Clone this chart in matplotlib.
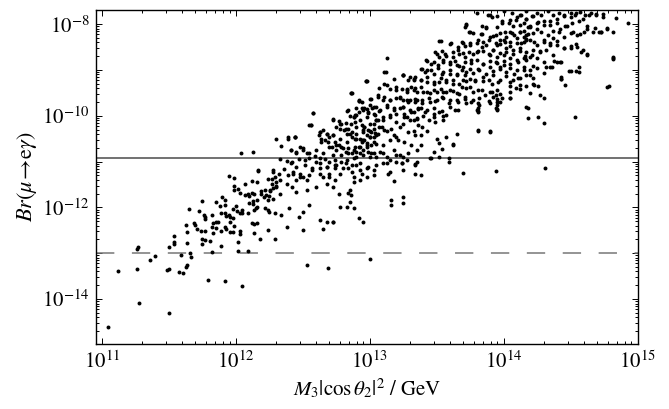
import numpy as np
import matplotlib.pyplot as plt
from matplotlib.ticker import FixedLocator, FixedFormatter, LogLocator, NullFormatter

plt.rcParams['font.family'] = ['STIXGeneral', 'DejaVu Serif']
plt.rcParams['mathtext.fontset'] = 'stix'

# scan points as (log10 M3|cos th2|^2 / GeV, log10 Br)
lower_tail = [
    (11.05, -14.60), (11.28, -14.09), (11.50, -14.30), (11.12, -13.39), (11.26, -13.35),
    (11.50, -13.35), (11.49, -13.36), (11.58, -13.42), (11.61, -13.43), (11.63, -13.29),
    (11.64, -13.26), (11.36, -13.15), (11.40, -13.05), (11.26, -12.90), (11.27, -12.87),
    (11.50, -12.87), (11.54, -12.75), (11.54, -12.79), (11.54, -12.62), (11.59, -13.03),
    (11.67, -13.08), (11.66, -12.99), (11.64, -12.77), (11.64, -12.53), (11.63, -12.39),
    (11.65, -12.04), (11.69, -12.35), (11.70, -12.38), (11.71, -12.48), (11.74, -12.51),
    (11.77, -12.51), (11.75, -11.87), (11.73, -12.08), (11.76, -12.16), (11.77, -12.21),
    (11.77, -12.25), (11.75, -12.68), (11.77, -12.72), (11.75, -12.79), (11.81, -12.74),
    (11.82, -12.98), (11.79, -13.58), (11.92, -13.61), (12.05, -13.71), (11.82, -12.16),
    (11.83, -12.33), (11.85, -12.31), (11.87, -12.32), (11.82, -12.43), (11.83, -12.56),
    (11.85, -12.45), (11.85, -11.88), (11.90, -11.78), (11.92, -11.83), (11.92, -11.95),
    (11.88, -11.96), (11.89, -12.12), (11.92, -12.13), (11.93, -12.19), (11.95, -12.16),
    (11.96, -12.21), (11.89, -12.85), (11.89, -12.51), (11.92, -12.43), (11.93, -12.48),
    (11.96, -12.54), (11.98, -12.54), (11.96, -12.32), (11.98, -12.24), (11.99, -12.41),
    (11.95, -11.31), (11.99, -11.36), (11.99, -11.53), (11.99, -11.62), (12.02, -11.60),
    (12.03, -11.68), (12.00, -11.97), (11.98, -12.04), (12.01, -12.08), (12.03, -12.12),
    (12.05, -12.06), (12.05, -12.13), (12.03, -12.52), (12.03, -12.59), (12.02, -12.76),
    (12.02, -12.96), (12.09, -12.96), (12.07, -11.48), (12.12, -11.43), (12.16, -11.45),
    (12.17, -11.21), (12.07, -11.72), (12.09, -11.70), (12.10, -11.76), (12.12, -11.68),
    (12.14, -11.71), (12.13, -11.85), (12.10, -11.90), (12.13, -11.93), (12.15, -12.01),
    (12.14, -12.06), (12.16, -12.00), (12.16, -11.84), (12.09, -12.12), (12.12, -12.35),
    (12.14, -12.37), (12.16, -12.34), (12.14, -12.56), (12.18, -12.69), (12.19, -11.70),
    (12.19, -11.64), (12.22, -11.62), (12.21, -11.78), (12.24, -11.84), (12.25, -11.74),
    (12.26, -11.65), (12.27, -11.49), (12.27, -11.39), (12.30, -11.44), (12.30, -11.54),
    (12.28, -11.57), (12.24, -11.38), (12.29, -11.34), (12.28, -11.22), (12.22, -12.02),
    (12.24, -12.06), (12.25, -12.10), (12.24, -12.50), (12.29, -12.69), (12.29, -12.13),
]

middle_band = [
    (12.97, -9.25), (12.86, -9.51), (12.92, -9.67), (13.01, -9.64), (13.06, -9.59),
    (12.58, -9.94), (12.56, -10.19), (12.83, -9.89), (12.85, -10.00), (12.88, -10.02),
    (12.90, -9.99), (12.89, -10.13), (12.86, -10.17), (12.92, -9.91), (12.96, -9.83),
    (12.98, -9.86), (12.99, -9.94), (12.98, -10.02), (13.02, -9.84), (13.05, -9.81),
    (13.07, -9.90), (13.04, -9.99), (13.05, -10.10), (13.03, -10.17), (13.07, -10.24),
    (12.94, -10.21), (12.96, -10.24), (12.99, -10.31), (13.01, -10.35), (13.04, -10.37),
    (12.95, -10.35), (12.98, -10.42), (13.00, -10.46), (13.03, -10.28), (13.05, -10.42),
    (12.93, -10.50), (12.96, -10.53), (12.73, -10.08), (12.77, -10.11), (12.79, -10.18),
    (12.82, -10.15), (12.75, -10.24), (12.78, -10.28), (12.81, -10.31), (12.84, -10.28),
    (12.87, -10.35), (12.83, -10.39), (12.87, -10.46), (12.90, -10.50), (12.94, -10.57),
    (12.98, -10.60), (13.01, -10.64), (12.92, -10.68), (12.90, -10.79), (12.95, -10.75),
    (12.99, -10.79), (13.03, -10.82), (13.05, -10.90), (12.63, -10.35), (12.65, -10.31),
    (12.68, -10.39), (12.64, -10.50), (12.67, -10.53), (12.70, -10.46), (12.62, -10.42),
    (12.69, -10.57), (12.73, -10.42), (12.74, -10.57), (12.77, -10.64), (12.79, -10.68),
    (12.72, -10.68), (12.75, -10.75), (12.82, -10.79), (12.84, -10.71), (12.87, -10.82),
    (12.88, -10.93), (12.83, -10.97), (12.30, -10.51), (12.39, -10.50), (12.44, -10.47),
    (12.34, -10.66), (12.41, -10.75), (12.48, -10.68), (12.50, -10.75), (12.53, -10.82),
    (12.45, -10.82), (12.04, -10.82), (12.13, -10.79), (12.33, -10.95), (12.38, -10.98),
    (12.42, -11.01), (12.47, -10.95), (12.52, -10.97), (12.55, -10.93), (12.59, -10.88),
    (12.63, -10.91), (12.60, -11.01), (12.67, -10.95), (12.70, -11.01), (12.74, -10.97),
    (12.75, -11.08), (12.79, -11.01), (12.82, -11.04), (12.84, -11.13), (12.28, -11.19),
    (12.32, -11.26), (12.36, -11.17), (12.39, -11.30), (12.43, -11.22), (12.48, -11.26),
    (12.50, -11.33), (12.45, -11.41), (12.53, -11.41), (12.57, -11.19), (12.63, -11.15),
    (12.68, -11.12), (12.74, -11.15), (12.70, -11.26), (12.65, -11.33), (12.68, -11.48),
    (12.73, -11.55), (12.60, -11.55), (12.53, -11.62), (12.45, -11.66), (12.42, -11.55),
    (12.38, -11.48), (12.33, -11.41), (12.30, -11.55), (12.33, -11.70), (12.26, -11.62),
    (12.28, -11.81), (12.23, -11.73), (12.93, -11.41), (12.98, -11.33), (13.03, -11.30),
    (12.88, -11.44), (12.85, -11.62), (12.86, -11.73), (12.83, -11.99), (12.88, -12.02),
    (12.92, -12.24), (12.95, -12.32), (12.93, -11.19), (12.98, -11.15), (12.90, -11.08),
    (12.77, -11.70), (12.78, -11.99), (12.88, -11.33), (12.74, -11.41), (12.38, -12.43),
    (12.47, -12.21), (12.50, -12.10), (12.55, -11.95), (12.40, -12.02), (12.34, -12.17),
    (12.63, -12.28), (12.68, -12.32), (12.73, -12.32), (12.50, -12.50), (12.55, -10.21),
    (12.39, -10.46), (12.44, -10.46), (12.17, -11.19), (12.65, -12.48), (12.69, -13.33),
    (12.53, -13.25), (12.73, -12.32),
]

middle_band_extra = [
    (13.11, -9.04), (13.25, -9.11), (13.30, -9.15), (13.33, -9.22), (12.97, -9.24),
    (12.86, -9.51), (13.07, -9.40), (13.13, -9.33), (13.20, -9.44), (13.28, -9.48),
    (13.34, -9.40), (12.92, -9.67), (13.00, -9.64), (13.06, -9.55), (13.11, -9.59),
    (13.15, -9.66), (13.23, -9.62), (13.29, -9.70), (13.35, -9.66), (12.58, -9.94),
    (12.56, -10.19), (12.73, -10.10), (12.78, -10.17), (12.84, -9.88), (12.89, -9.99),
    (12.94, -9.84), (12.99, -9.91), (13.03, -9.81), (13.08, -9.88), (13.13, -9.77),
    (13.18, -9.84), (13.25, -9.81), (13.31, -9.91), (13.36, -9.84), (12.82, -10.28),
    (12.85, -10.39), (12.90, -10.24), (12.95, -10.31), (13.00, -10.17), (13.05, -10.10),
    (13.10, -10.02), (13.15, -9.99), (13.20, -9.95), (13.26, -10.02), (13.33, -10.10),
    (13.36, -10.20), (12.44, -10.46), (12.63, -10.35), (12.68, -10.39), (12.73, -10.42),
    (12.78, -10.50), (12.83, -10.57), (12.89, -10.50), (12.94, -10.53), (13.00, -10.46),
    (13.06, -10.39), (13.11, -10.31), (13.16, -10.28), (13.23, -10.24), (13.29, -10.35),
    (13.34, -10.42), (12.64, -10.57), (12.70, -10.68), (12.75, -10.64), (12.80, -10.71),
    (12.88, -10.75), (12.93, -10.68), (12.98, -10.64), (13.03, -10.57), (13.10, -10.64),
    (13.15, -10.53), (13.20, -10.46), (13.26, -10.57), (13.31, -10.64), (13.35, -10.75),
    (12.41, -10.75), (12.45, -10.79), (12.50, -10.71), (12.55, -10.82), (12.60, -10.75),
    (12.65, -10.82), (12.73, -10.86), (12.79, -10.86), (12.84, -10.82), (12.90, -10.90),
    (12.95, -10.86), (13.01, -10.82), (13.08, -10.79), (13.13, -10.90), (13.18, -10.75),
    (13.23, -10.86), (13.29, -10.82), (12.41, -11.04), (12.45, -11.11), (12.52, -11.08),
    (12.57, -11.15), (12.63, -11.04), (12.68, -11.11), (12.74, -11.08), (12.80, -11.15),
    (12.87, -11.08), (12.93, -11.04), (12.99, -11.11), (13.05, -11.08), (13.13, -11.04),
    (13.20, -11.01), (13.28, -10.97), (13.35, -11.01), (12.43, -11.26), (12.48, -11.33),
    (12.55, -11.30), (12.63, -11.26), (12.70, -11.33), (12.78, -11.26), (12.87, -11.22),
    (12.94, -11.26), (13.03, -11.19), (13.15, -11.22), (13.25, -11.19), (13.34, -11.26),
]

upper_band = [
    (13.72, -7.99), (13.71, -8.07), (13.75, -8.17), (13.87, -8.07), (13.84, -8.22),
    (13.81, -8.35), (13.90, -8.28), (13.94, -8.24), (13.97, -8.35), (13.95, -8.46),
    (13.92, -8.57), (13.87, -8.46), (13.84, -8.50), (13.80, -8.60), (13.75, -8.46),
    (13.70, -8.42), (13.66, -8.50), (13.61, -8.42), (13.52, -8.36), (13.56, -8.64),
    (13.52, -8.71), (13.49, -8.60), (13.67, -8.64), (13.62, -8.71), (13.71, -8.71),
    (13.76, -8.79), (13.90, -8.68), (13.95, -8.71), (13.94, -8.82), (13.97, -8.93),
    (13.90, -8.93), (13.85, -8.86), (13.81, -8.97), (13.75, -8.97), (13.70, -8.93),
    (13.65, -8.90), (13.60, -8.82), (13.55, -8.82), (13.51, -8.90), (13.46, -8.86),
    (13.42, -8.79), (13.39, -8.97), (13.43, -9.00), (13.48, -9.08), (13.54, -9.08),
    (13.60, -9.08), (13.65, -9.11), (13.71, -9.11), (13.75, -9.19), (13.70, -9.22),
    (13.79, -9.22), (13.85, -9.15), (13.89, -9.22), (13.92, -9.11), (13.96, -9.26),
    (13.95, -9.44), (13.92, -9.59), (13.86, -9.55), (13.81, -9.44), (13.75, -9.37),
    (13.69, -9.37), (13.62, -9.30), (13.57, -9.22), (13.52, -9.26), (13.48, -9.30),
    (13.43, -9.26), (13.38, -9.22), (13.34, -9.15), (13.29, -9.22), (13.25, -9.11),
    (13.13, -8.73), (13.12, -9.04), (13.18, -9.19), (13.11, -9.30), (12.98, -9.25),
    (13.15, -9.41), (13.20, -9.37), (13.24, -9.41), (13.28, -9.44), (13.31, -9.37),
    (13.35, -9.48), (13.40, -9.48), (13.45, -9.51), (13.50, -9.48), (13.55, -9.48),
    (13.60, -9.44), (13.65, -9.51), (13.71, -9.59), (13.77, -9.66), (13.81, -9.84),
    (13.90, -9.73), (13.95, -9.70), (13.95, -9.88), (13.80, -9.88), (13.72, -9.73),
    (13.66, -9.70), (13.60, -9.66), (13.55, -9.62), (13.50, -9.66), (13.45, -9.70),
    (13.39, -9.66), (13.34, -9.70), (13.30, -9.66), (13.25, -9.66), (13.20, -9.62),
    (13.15, -9.66), (13.10, -9.66), (13.13, -9.81), (13.18, -9.88), (13.23, -9.84),
    (13.26, -9.95), (13.33, -9.91), (13.38, -9.84), (13.43, -9.88), (13.48, -9.95),
    (13.52, -9.91), (13.57, -9.99), (13.64, -9.88), (13.55, -10.10), (13.49, -10.13),
    (13.44, -10.10), (13.39, -10.24), (13.35, -10.06), (13.30, -10.10), (13.25, -10.17),
    (13.20, -10.13), (13.15, -10.02), (13.10, -10.10), (13.33, -10.33), (13.38, -10.42),
    (13.43, -10.33), (13.50, -10.50), (13.57, -10.46), (13.65, -10.39), (13.62, -10.64),
    (13.54, -10.72), (13.48, -10.79), (13.38, -10.64), (13.21, -10.53), (13.18, -10.42),
    (13.13, -10.33), (13.09, -10.24), (13.81, -10.33), (13.90, -10.35), (13.81, -9.73),
    (13.52, -10.90), (13.45, -10.93), (13.59, -10.93), (13.10, -10.82), (13.20, -10.86),
    (13.25, -10.90), (13.15, -10.97), (13.24, -11.04), (13.34, -11.08), (13.10, -11.04),
    (12.88, -10.02), (12.93, -10.10), (12.96, -10.24), (12.90, -10.39), (13.00, -10.33),
    (12.95, -10.53), (13.03, -10.46), (12.89, -10.68), (12.98, -10.68), (13.05, -10.61),
    (12.93, -10.82), (13.00, -10.90), (13.06, -10.10), (13.03, -9.95), (12.95, -9.88),
    (12.90, -9.84), (13.00, -9.77), (12.94, -9.70), (12.92, -9.66), (12.87, -9.51),
]

upper_band_extra = [
    (13.88, -7.80), (13.91, -7.85), (14.05, -7.91), (14.10, -7.84), (14.13, -7.79),
    (14.17, -7.88), (13.72, -8.01), (13.84, -8.03), (13.87, -8.08), (13.95, -8.06),
    (13.99, -7.98), (14.07, -8.03), (14.12, -8.01), (14.18, -8.07), (13.74, -8.17),
    (13.77, -8.20), (13.83, -8.22), (13.92, -8.25), (13.97, -8.19), (14.02, -8.29),
    (14.05, -8.18), (14.08, -8.24), (14.12, -8.16), (14.15, -8.29), (14.18, -8.21),
    (13.53, -8.37), (13.60, -8.43), (13.69, -8.38), (13.71, -8.47), (13.75, -8.40),
    (13.80, -8.41), (13.85, -8.38), (13.89, -8.34), (13.94, -8.40), (13.97, -8.43),
    (14.01, -8.38), (14.05, -8.47), (14.10, -8.40), (14.13, -8.42), (14.17, -8.35),
    (13.50, -8.65), (13.54, -8.59), (13.57, -8.69), (13.62, -8.61), (13.66, -8.56),
    (13.70, -8.63), (13.74, -8.61), (13.77, -8.65), (13.81, -8.58), (13.85, -8.59),
    (13.89, -8.65), (13.92, -8.56), (13.97, -8.63), (14.02, -8.61), (14.07, -8.65),
    (14.12, -8.58), (14.16, -8.69), (13.43, -8.80), (13.48, -8.83), (13.55, -8.78),
    (13.60, -8.87), (13.64, -8.80), (13.67, -8.91), (13.71, -8.83), (13.76, -8.85),
    (13.80, -8.78), (13.85, -8.87), (13.90, -8.80), (13.95, -8.85), (14.00, -8.80),
    (14.05, -8.87), (14.11, -8.83), (14.17, -8.78), (13.38, -8.98), (13.41, -9.05),
    (13.46, -9.01), (13.51, -8.96), (13.55, -9.05), (13.60, -8.99), (13.65, -9.09),
    (13.69, -9.01), (13.72, -9.05), (13.77, -9.07), (13.82, -9.01), (13.87, -9.09),
    (13.92, -9.03), (13.97, -8.98), (14.02, -9.05), (14.08, -9.09), (14.15, -9.01),
    (13.25, -9.12), (13.33, -9.20), (13.38, -9.21), (13.43, -9.16), (13.48, -9.27),
    (13.53, -9.18), (13.57, -9.27), (13.62, -9.21), (13.67, -9.31), (13.72, -9.23),
    (13.79, -9.25), (13.85, -9.23), (13.91, -9.31), (13.97, -9.21), (14.05, -9.27),
    (14.11, -9.18), (13.28, -9.41), (13.33, -9.43), (13.38, -9.38), (13.43, -9.49),
    (13.48, -9.43), (13.53, -9.41), (13.57, -9.49), (13.62, -9.45), (13.67, -9.52),
    (13.72, -9.39), (13.77, -9.49), (13.84, -9.43), (13.90, -9.49), (13.97, -9.52),
    (14.05, -9.47), (14.12, -9.41), (13.23, -9.60), (13.28, -9.65), (13.34, -9.63),
    (13.39, -9.71), (13.44, -9.61), (13.49, -9.67), (13.54, -9.58), (13.59, -9.71),
    (13.65, -9.65), (13.71, -9.63), (13.76, -9.69), (13.82, -9.61), (13.89, -9.67),
    (13.95, -9.63), (14.05, -9.61), (13.25, -9.81), (13.30, -9.87), (13.36, -9.85),
    (13.41, -9.92), (13.48, -9.83), (13.54, -9.89), (13.60, -9.81), (13.66, -9.87),
    (13.81, -9.89), (13.95, -9.85), (14.17, -9.80), (13.28, -10.03), (13.35, -10.05),
    (13.40, -10.01), (13.48, -10.03), (13.55, -10.00),
]

top_band = [
    (14.00, -7.72), (14.06, -7.76), (14.12, -7.80), (14.17, -7.72), (14.21, -7.83),
    (14.25, -7.76), (14.28, -7.80), (14.33, -7.72), (14.37, -7.81), (14.41, -7.76),
    (14.45, -7.83), (14.50, -7.76), (14.53, -7.81), (14.57, -7.74), (14.61, -7.80),
    (14.65, -7.76), (14.69, -7.80), (14.74, -7.78), (14.84, -7.86), (14.93, -7.98),
    (13.99, -7.94), (14.04, -7.98), (14.09, -7.91), (14.15, -7.98), (14.20, -8.05),
    (14.25, -7.98), (14.30, -7.94), (14.35, -8.02), (14.40, -7.98), (14.46, -8.05),
    (14.51, -7.98), (14.56, -7.94), (14.62, -8.05), (14.67, -8.16), (14.71, -8.18),
    (14.73, -8.16), (14.77, -8.10), (14.82, -8.18), (14.01, -8.16), (14.06, -8.20),
    (14.12, -8.16), (14.17, -8.23), (14.22, -8.20), (14.28, -8.16), (14.33, -8.23),
    (14.37, -8.31), (14.41, -8.16), (14.45, -8.27), (14.50, -8.20), (14.55, -8.23),
    (14.60, -8.16), (14.00, -8.34), (14.05, -8.38), (14.10, -8.31), (14.15, -8.38),
    (14.20, -8.34), (14.25, -8.45), (14.30, -8.38), (14.35, -8.42), (14.40, -8.45),
    (14.45, -8.52), (14.50, -8.52), (14.55, -8.49), (14.58, -8.60), (14.62, -8.67),
    (14.02, -8.52), (14.07, -8.56), (14.12, -8.52), (14.17, -8.60), (14.22, -8.56),
    (14.27, -8.60), (14.32, -8.56), (14.37, -8.67), (14.42, -8.82), (14.35, -8.93),
    (14.30, -8.82), (14.25, -8.74), (14.20, -8.71), (14.15, -8.74), (14.10, -8.78),
    (14.05, -8.74), (14.00, -8.67), (14.00, -8.89), (14.05, -8.96), (14.10, -9.00),
    (14.15, -8.93), (14.20, -9.00), (14.25, -8.96), (14.30, -9.07), (14.22, -9.18),
    (14.17, -9.11), (14.12, -9.18), (14.07, -9.22), (14.02, -9.14), (14.05, -9.36),
    (14.09, -9.40), (14.12, -9.33), (14.17, -9.36), (14.22, -9.31), (14.26, -9.36),
    (14.20, -9.51), (14.27, -9.54), (14.30, -9.62), (14.05, -9.62), (13.99, -9.62),
    (13.95, -9.76), (13.94, -9.83), (13.82, -9.76), (13.81, -9.91), (13.91, -9.47),
    (13.94, -9.54), (13.97, -9.69), (13.80, -7.76), (13.90, -7.80), (13.95, -7.83),
]

top_band_extra = [
    (14.17, -7.88), (14.22, -7.83), (14.26, -7.95), (14.20, -8.06), (14.15, -8.15),
    (14.25, -8.10), (14.30, -8.01), (14.35, -7.93), (14.40, -7.88), (14.45, -7.79),
    (14.50, -7.84), (14.54, -7.75), (14.59, -7.88), (14.64, -7.79), (14.69, -7.77),
    (14.74, -7.84), (14.37, -8.15), (14.42, -8.10), (14.47, -8.04), (14.52, -8.17),
    (14.57, -8.21), (14.62, -8.11), (14.68, -8.08), (14.73, -8.17), (14.77, -8.08),
    (14.17, -8.33), (14.23, -8.39), (14.30, -8.35), (14.35, -8.46), (14.40, -8.37),
    (14.45, -8.53), (14.50, -8.48), (14.54, -8.44), (14.59, -8.57), (14.27, -8.59),
    (14.21, -8.68), (14.16, -8.73), (14.22, -8.92), (14.32, -8.94), (14.38, -8.81),
    (14.43, -8.83), (14.62, -8.66), (14.56, -9.04), (14.50, -9.02), (14.43, -9.19),
    (14.82, -8.75), (14.20, -9.12), (14.23, -9.33), (14.79, -9.34),
]

outliers = [
    (14.18, -9.82), (14.18, -10.05), (14.26, -10.02), (14.30, -10.16), (14.53, -10.03),
    (14.77, -9.38), (14.82, -8.74), (14.82, -8.71), (14.43, -9.16), (14.43, -9.20),
    (14.46, -9.33), (14.49, -9.02), (14.54, -9.03), (14.56, -8.93), (14.40, -8.82),
    (14.36, -8.93), (13.81, -10.31), (13.90, -10.34), (13.70, -11.25), (13.94, -11.20),
    (14.31, -11.15), (13.00, -13.13), (13.16, -11.95), (12.84, -11.68), (12.85, -11.88),
    (13.16, -11.84), (13.25, -11.77), (13.25, -11.90), (13.14, -11.26), (13.18, -11.42),
    (13.34, -11.06), (13.38, -11.30), (13.24, -11.04), (13.46, -10.91), (13.59, -11.01),
    (13.62, -10.62), (13.52, -10.59),
]

br_bound_present = 1.2e-11   # solid line
br_bound_future = 1e-13      # dashed line

x_major = [1e11, 1e12, 1e13, 1e14, 1e15]
x_labels = [r'$10^{11}$', r'$10^{12}$', r'$10^{13}$', r'$10^{14}$', r'$10^{15}$']
y_major = [10.0 ** k for k in range(-15, -7)]
y_labels = ['' if k % 2 else r'$10^{%d}$' % k for k in range(-15, -7)]

pts = np.array(lower_tail + middle_band + middle_band_extra + upper_band
               + upper_band_extra + top_band + top_band_extra + outliers)

fig = plt.figure(figsize=(6.69, 4.09), dpi=100)
ax = fig.add_axes([0.144, 0.159, 0.809, 0.8166])

ax.scatter(10 ** pts[:, 0], 10 ** pts[:, 1], s=8, c='black', linewidths=0, zorder=3)
ax.axhline(br_bound_present, color='#666666', lw=1.3, zorder=2)
ax.axhline(br_bound_future, color='#777777', lw=1.1, ls=(0, (12, 11.5)), zorder=2)

ax.set_xscale('log')
ax.set_yscale('log')
ax.set_xlim(10 ** 10.96, 1e15)
ax.set_ylim(10 ** -14.98, 10 ** -7.69)

ax.xaxis.set_major_locator(FixedLocator(x_major))
ax.xaxis.set_major_formatter(FixedFormatter(x_labels))
ax.xaxis.set_minor_locator(LogLocator(base=10, subs=np.arange(2, 10)))
ax.xaxis.set_minor_formatter(NullFormatter())
ax.yaxis.set_major_locator(FixedLocator(y_major))
ax.yaxis.set_major_formatter(FixedFormatter(y_labels))
ax.yaxis.set_minor_locator(LogLocator(base=10, subs=np.arange(2, 10)))
ax.yaxis.set_minor_formatter(NullFormatter())

ax.tick_params(which='both', direction='in', top=True, right=True, width=0.7,
               labelsize=15)
ax.tick_params(which='major', length=4, pad=5)
ax.tick_params(which='minor', length=2)
for sp in ax.spines.values():
    sp.set_linewidth(1.0)

ax.set_xlabel(r'$M_3|\cos\theta_2|^2$ / GeV', fontsize=15, labelpad=3)
ax.set_ylabel(r'$Br(\mu\!\rightarrow\!\mathrm{e}\gamma)$', fontsize=16, labelpad=2)

fig.savefig('out.png', dpi=100)
